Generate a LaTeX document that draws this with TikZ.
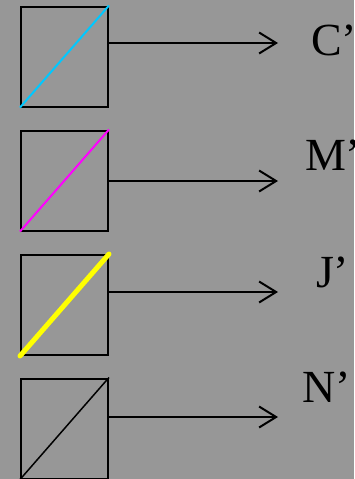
\documentclass[tikz,border=0pt]{standalone}
\usepackage{fontspec}
\setmainfont{Liberation Serif}
\usetikzlibrary{arrows.meta,positioning}
\definecolor{bggray}{RGB}{151,151,151}
\definecolor{lcyan}{RGB}{0,200,255}
\definecolor{lmagenta}{RGB}{255,0,255}
\definecolor{lyellow}{RGB}{255,255,0}

\begin{document}
\begin{tikzpicture}%
  [x=1pt, y=-1pt, line width=2pt,
   box/.style={rectangle, draw, inner sep=0pt, minimum width=87pt, minimum height=100pt},
   chan/.style={-{Straight Barb[length=17pt, width=21pt, line width=2pt]}},
   lbl/.style={anchor=base west, inner sep=0pt, font=\fontsize{46}{46}\selectfont}]

  \fill[bggray] (0,0) rectangle (354,479);
  \useasboundingbox (0,0) rectangle (354,479);

  \node (C) at (64.5,56.5) [box] {};
  \node (M) at (64.5,180.5) [box] {};
  \node (J) at (64.5,305) [box] {};
  \node (N) at (64.5,428.5) [box] {};

  \draw[lcyan] (C.south west) -- (C.north east);
  \draw[lmagenta] (M.south west) -- (M.north east);
  \draw[lyellow, line width=5pt, line cap=round] (J.south west) -- (J.north east);
  \draw[black, line width=1.5pt] (N.south west) -- (N.north east);

  \coordinate (Cend) at (278,43);
  \coordinate (Mend) at (278,181);
  \coordinate (Jend) at (278,292);
  \coordinate (Nend) at (278,417);

  \draw[chan] (C.east |- Cend) -- (Cend);
  \draw[chan] (M.east |- Mend) -- (Mend);
  \draw[chan] (J.east |- Jend) -- (Jend);
  \draw[chan] (N.east |- Nend) -- (Nend);

  \node (Clbl) at (310,55) [lbl] {C’};
  \node (Mlbl) at (304,170) [lbl] {M’};
  \node (Jlbl) at (315,287) [lbl] {J’};
  \node (Nlbl) at (301,402) [lbl] {N’};

\end{tikzpicture}
\end{document}
